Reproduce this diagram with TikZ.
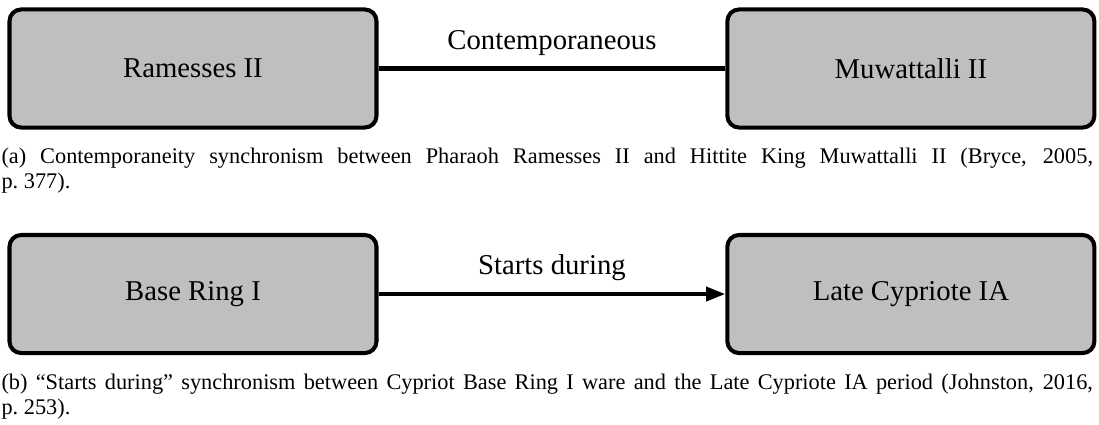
\documentclass[tikz,border=0pt]{standalone}
\usepackage{fontspec}
\setmainfont{Liberation Serif}
\usetikzlibrary{positioning, arrows.meta}
\tikzstyle{period} = [draw=black, fill=lightgray, line width=1.9pt, rectangle, rounded corners=5.5pt, minimum width=172.5pt, minimum height=55.5pt, font=\fontsize{13.5}{16}\selectfont]
\tikzstyle{relation} = [line width=1.9pt]
\tikzstyle{reltext} = [above, yshift=2pt, font=\fontsize{13.5}{16}\selectfont]
\tikzstyle{subcap} = [text width=513pt, align=justify, inner sep=0pt, font=\fontsize{10.5}{11.75}\selectfont]

\begin{document}
\begin{tikzpicture}[x=0.47pt, y=-0.47pt]
	\useasboundingbox (0,0) rectangle (1099,425);
	% (a) contemporaneity
	\node [period] (ramesses) at (193,68.5) {Ramesses II};
	\node [period, right=163pt of ramesses] (muwattalli) {Muwattalli II};
	\draw [relation] (ramesses) -- node[reltext] {Contemporaneous} (muwattalli);
	\node [subcap, below right=8.3pt and -3pt of ramesses.south west] (capa) {(a) Contemporaneity synchronism between Pharaoh Ramesses II and Hittite King Muwattalli II (Bryce, 2005,\linebreak p.~377).};
	% (b) starts during
	\node [period, below=48.6pt of ramesses] (basering) {Base Ring I};
	\node [period, right=163pt of basering] (latecyp) {Late Cypriote IA};
	\draw [relation, -{Triangle[length=9pt, width=6.5pt]}] (basering) -- node[reltext] {Starts during} (latecyp);
	\node [subcap, below right=8.5pt and -3pt of basering.south west] (capb) {(b) ``Starts during'' synchronism between Cypriot Base Ring I ware and the Late Cypriote IA period (Johnston, 2016,\linebreak p.~253).};
\end{tikzpicture}
\end{document}
